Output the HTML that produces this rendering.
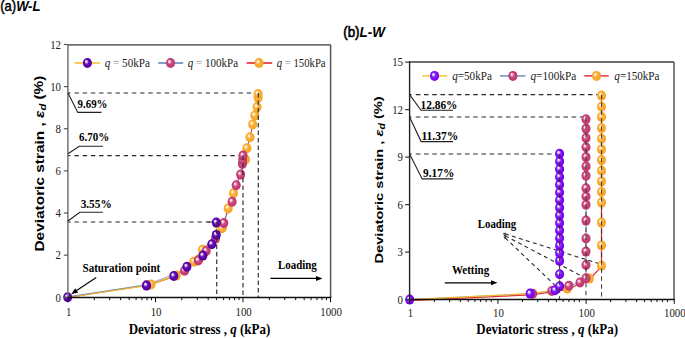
<!DOCTYPE html>
<html><head><meta charset="utf-8"><style>
html,body{margin:0;padding:0;background:#fff;width:685px;height:338px;overflow:hidden;}
svg{display:block;}
</style></head><body>
<svg width="685" height="338" viewBox="0 0 685 338">
<defs>
<radialGradient id="gP" cx="0.5" cy="0.5" r="0.52" fx="0.34" fy="0.32">
 <stop offset="0" stop-color="#ffffff"/><stop offset="0.17" stop-color="#e0d0f2"/><stop offset="0.45" stop-color="#6410b4"/><stop offset="0.8" stop-color="#5600a6"/><stop offset="1" stop-color="#4c0098"/></radialGradient>
<radialGradient id="gP2" cx="0.5" cy="0.5" r="0.52" fx="0.34" fy="0.32">
 <stop offset="0" stop-color="#ffffff"/><stop offset="0.17" stop-color="#e4d0ff"/><stop offset="0.45" stop-color="#8424f6"/><stop offset="0.8" stop-color="#7800ee"/><stop offset="1" stop-color="#6e00e0"/></radialGradient>
<radialGradient id="gK" cx="0.5" cy="0.5" r="0.52" fx="0.34" fy="0.32">
 <stop offset="0" stop-color="#ffffff"/><stop offset="0.17" stop-color="#f4d4e2"/><stop offset="0.45" stop-color="#cc4a80"/><stop offset="0.8" stop-color="#c43a72"/><stop offset="1" stop-color="#b83068"/></radialGradient>
<radialGradient id="gO" cx="0.5" cy="0.5" r="0.52" fx="0.34" fy="0.32">
 <stop offset="0" stop-color="#ffffff"/><stop offset="0.17" stop-color="#ffecd0"/><stop offset="0.45" stop-color="#fbb038"/><stop offset="0.8" stop-color="#f8a828"/><stop offset="1" stop-color="#f2a020"/></radialGradient>
</defs>
<rect width="685" height="338" fill="#fff"/>
<text x="0.20" y="10.50" font-family="Liberation Sans" font-weight="normal" font-size="14.5" fill="#000" textLength="40.2" lengthAdjust="spacingAndGlyphs"><tspan stroke="#000" stroke-width="0.45">(a)</tspan><tspan font-weight="bold" font-style="italic">W-L</tspan></text>
<text x="343.20" y="37.20" font-family="Liberation Sans" font-weight="normal" font-size="14.2" fill="#000" textLength="41.72" lengthAdjust="spacingAndGlyphs"><tspan stroke="#000" stroke-width="0.6">(b)</tspan><tspan font-weight="bold" font-style="italic">L-W</tspan></text>
<line x1="74.50" y1="93.00" x2="258.30" y2="93.00" stroke="#2a2a2a" stroke-width="1.2" stroke-dasharray="4.4,3.8"/>
<line x1="67.50" y1="93.00" x2="70.40" y2="93.00" stroke="#2a2a2a" stroke-width="1.2"/>
<line x1="74.50" y1="155.60" x2="243.00" y2="155.60" stroke="#2a2a2a" stroke-width="1.2" stroke-dasharray="4.4,3.8"/>
<line x1="67.50" y1="155.60" x2="70.40" y2="155.60" stroke="#2a2a2a" stroke-width="1.2"/>
<line x1="74.50" y1="222.00" x2="216.70" y2="222.00" stroke="#2a2a2a" stroke-width="1.2" stroke-dasharray="4.4,3.8"/>
<line x1="67.50" y1="222.00" x2="70.40" y2="222.00" stroke="#2a2a2a" stroke-width="1.2"/>
<polyline points="67.70,297.50 151.00,284.60 176.30,275.80 193.80,262.00 198.90,259.50 202.50,250.00 222.10,228.50 228.20,208.60 233.50,193.50 245.60,159.70 246.90,148.40 250.00,137.50 252.70,124.60 254.80,115.60 257.10,107.30 258.10,97.80 258.10,94.20" fill="none" stroke="#e8343c" stroke-width="1.0" stroke-linejoin="round"/>
<polyline points="67.70,297.30 146.50,285.60 173.80,276.00 186.90,266.70 202.90,255.60 211.80,244.20 216.30,234.90 216.30,222.60" fill="none" stroke="#f5b82e" stroke-width="1.5" stroke-linejoin="round"/>
<polyline points="67.70,296.75 146.50,284.65 184.60,270.25 198.30,259.95 206.20,250.45 215.50,238.05 223.80,222.55 232.10,201.15 236.20,184.75 240.60,174.05 242.40,163.45 242.70,159.45 243.00,155.05" fill="none" stroke="#5b8ac0" stroke-width="0.7" stroke-linejoin="round"/>
<ellipse cx="151.00" cy="284.40" rx="4.5" ry="5.0" fill="url(#gO)"/>
<ellipse cx="176.30" cy="275.60" rx="4.5" ry="5.0" fill="url(#gO)"/>
<ellipse cx="193.80" cy="261.80" rx="4.5" ry="5.0" fill="url(#gO)"/>
<ellipse cx="198.90" cy="259.30" rx="4.5" ry="5.0" fill="url(#gO)"/>
<ellipse cx="202.50" cy="249.80" rx="4.5" ry="5.0" fill="url(#gO)"/>
<ellipse cx="222.10" cy="228.30" rx="4.5" ry="5.0" fill="url(#gO)"/>
<ellipse cx="228.20" cy="208.40" rx="4.5" ry="5.0" fill="url(#gO)"/>
<ellipse cx="233.50" cy="193.30" rx="4.5" ry="5.0" fill="url(#gO)"/>
<ellipse cx="245.60" cy="159.50" rx="4.5" ry="5.0" fill="url(#gO)"/>
<ellipse cx="246.90" cy="148.20" rx="4.5" ry="5.0" fill="url(#gO)"/>
<ellipse cx="250.00" cy="137.30" rx="4.5" ry="5.0" fill="url(#gO)"/>
<ellipse cx="252.70" cy="124.40" rx="4.5" ry="5.0" fill="url(#gO)"/>
<ellipse cx="254.80" cy="115.40" rx="4.5" ry="5.0" fill="url(#gO)"/>
<ellipse cx="257.10" cy="107.10" rx="4.5" ry="5.0" fill="url(#gO)"/>
<ellipse cx="258.10" cy="97.60" rx="4.5" ry="5.0" fill="url(#gO)"/>
<ellipse cx="258.10" cy="94.00" rx="4.5" ry="5.0" fill="url(#gO)"/>
<ellipse cx="146.50" cy="285.20" rx="4.5" ry="5.0" fill="url(#gK)"/>
<ellipse cx="184.60" cy="270.80" rx="4.5" ry="5.0" fill="url(#gK)"/>
<ellipse cx="198.30" cy="260.50" rx="4.5" ry="5.0" fill="url(#gK)"/>
<ellipse cx="206.20" cy="251.00" rx="4.5" ry="5.0" fill="url(#gK)"/>
<ellipse cx="215.50" cy="238.60" rx="4.5" ry="5.0" fill="url(#gK)"/>
<ellipse cx="223.80" cy="223.10" rx="4.5" ry="5.0" fill="url(#gK)"/>
<ellipse cx="232.10" cy="201.70" rx="4.5" ry="5.0" fill="url(#gK)"/>
<ellipse cx="236.20" cy="185.30" rx="4.5" ry="5.0" fill="url(#gK)"/>
<ellipse cx="240.60" cy="174.60" rx="4.5" ry="5.0" fill="url(#gK)"/>
<ellipse cx="242.40" cy="164.00" rx="4.5" ry="5.0" fill="url(#gK)"/>
<ellipse cx="242.70" cy="160.00" rx="4.5" ry="5.0" fill="url(#gK)"/>
<ellipse cx="243.00" cy="155.60" rx="4.5" ry="5.0" fill="url(#gK)"/>
<ellipse cx="67.70" cy="297.30" rx="4.5" ry="5.0" fill="url(#gP)"/>
<ellipse cx="146.50" cy="285.60" rx="4.5" ry="5.0" fill="url(#gP)"/>
<ellipse cx="173.80" cy="276.00" rx="4.5" ry="5.0" fill="url(#gP)"/>
<ellipse cx="186.90" cy="266.70" rx="4.5" ry="5.0" fill="url(#gP)"/>
<ellipse cx="202.90" cy="255.60" rx="4.5" ry="5.0" fill="url(#gP)"/>
<ellipse cx="211.80" cy="244.20" rx="4.5" ry="5.0" fill="url(#gP)"/>
<ellipse cx="216.30" cy="234.90" rx="4.5" ry="5.0" fill="url(#gP)"/>
<ellipse cx="216.30" cy="222.60" rx="4.5" ry="5.0" fill="url(#gP)"/>
<line x1="258.30" y1="93.00" x2="258.30" y2="297.40" stroke="#333" stroke-width="1.2" stroke-dasharray="4.5,3"/>
<line x1="243.00" y1="155.60" x2="243.00" y2="297.40" stroke="#333" stroke-width="1.2" stroke-dasharray="4.5,3"/>
<line x1="216.70" y1="222.00" x2="216.70" y2="297.40" stroke="#333" stroke-width="1.2" stroke-dasharray="4.5,3"/>
<line x1="206.00" y1="222.00" x2="216.70" y2="222.00" stroke="#333" stroke-width="1.2" stroke-dasharray="0,1.5,4.5,3"/>
<line x1="67.90" y1="44.80" x2="330.60" y2="44.80" stroke="#6e6e6e" stroke-width="1.8"/>
<line x1="330.60" y1="44.80" x2="330.60" y2="297.40" stroke="#555" stroke-width="1.5"/>
<line x1="67.90" y1="43.90" x2="67.90" y2="297.40" stroke="#7a7a7a" stroke-width="1.6"/>
<line x1="67.10" y1="297.40" x2="331.40" y2="297.40" stroke="#111" stroke-width="1.5"/>
<line x1="63.80" y1="297.30" x2="67.90" y2="297.30" stroke="#555" stroke-width="1.2"/>
<text x="61.00" y="301.50" font-family="Liberation Serif" font-size="13.0" text-anchor="end" fill="#222" textLength="5.43" lengthAdjust="spacingAndGlyphs">0</text>
<line x1="63.80" y1="255.16" x2="67.90" y2="255.16" stroke="#555" stroke-width="1.2"/>
<text x="61.00" y="259.36" font-family="Liberation Serif" font-size="13.0" text-anchor="end" fill="#222" textLength="5.43" lengthAdjust="spacingAndGlyphs">2</text>
<line x1="63.80" y1="213.02" x2="67.90" y2="213.02" stroke="#555" stroke-width="1.2"/>
<text x="61.00" y="217.22" font-family="Liberation Serif" font-size="13.0" text-anchor="end" fill="#222" textLength="5.43" lengthAdjust="spacingAndGlyphs">4</text>
<line x1="63.80" y1="170.88" x2="67.90" y2="170.88" stroke="#555" stroke-width="1.2"/>
<text x="61.00" y="175.08" font-family="Liberation Serif" font-size="13.0" text-anchor="end" fill="#222" textLength="5.43" lengthAdjust="spacingAndGlyphs">6</text>
<line x1="63.80" y1="128.74" x2="67.90" y2="128.74" stroke="#555" stroke-width="1.2"/>
<text x="61.00" y="132.94" font-family="Liberation Serif" font-size="13.0" text-anchor="end" fill="#222" textLength="5.43" lengthAdjust="spacingAndGlyphs">8</text>
<line x1="63.80" y1="86.60" x2="67.90" y2="86.60" stroke="#555" stroke-width="1.2"/>
<text x="61.00" y="90.80" font-family="Liberation Serif" font-size="13.0" text-anchor="end" fill="#222" textLength="10.86" lengthAdjust="spacingAndGlyphs">10</text>
<line x1="63.80" y1="44.46" x2="67.90" y2="44.46" stroke="#555" stroke-width="1.2"/>
<text x="61.00" y="48.66" font-family="Liberation Serif" font-size="13.0" text-anchor="end" fill="#222" textLength="10.86" lengthAdjust="spacingAndGlyphs">12</text>
<line x1="94.34" y1="297.40" x2="94.34" y2="300.20" stroke="#111" stroke-width="1.0"/>
<line x1="109.75" y1="297.40" x2="109.75" y2="300.20" stroke="#111" stroke-width="1.0"/>
<line x1="120.68" y1="297.40" x2="120.68" y2="300.20" stroke="#111" stroke-width="1.0"/>
<line x1="129.16" y1="297.40" x2="129.16" y2="300.20" stroke="#111" stroke-width="1.0"/>
<line x1="136.09" y1="297.40" x2="136.09" y2="300.20" stroke="#111" stroke-width="1.0"/>
<line x1="141.95" y1="297.40" x2="141.95" y2="300.20" stroke="#111" stroke-width="1.0"/>
<line x1="147.02" y1="297.40" x2="147.02" y2="300.20" stroke="#111" stroke-width="1.0"/>
<line x1="151.50" y1="297.40" x2="151.50" y2="300.20" stroke="#111" stroke-width="1.0"/>
<line x1="181.84" y1="297.40" x2="181.84" y2="300.20" stroke="#111" stroke-width="1.0"/>
<line x1="197.25" y1="297.40" x2="197.25" y2="300.20" stroke="#111" stroke-width="1.0"/>
<line x1="208.18" y1="297.40" x2="208.18" y2="300.20" stroke="#111" stroke-width="1.0"/>
<line x1="216.66" y1="297.40" x2="216.66" y2="300.20" stroke="#111" stroke-width="1.0"/>
<line x1="223.59" y1="297.40" x2="223.59" y2="300.20" stroke="#111" stroke-width="1.0"/>
<line x1="229.45" y1="297.40" x2="229.45" y2="300.20" stroke="#111" stroke-width="1.0"/>
<line x1="234.52" y1="297.40" x2="234.52" y2="300.20" stroke="#111" stroke-width="1.0"/>
<line x1="239.00" y1="297.40" x2="239.00" y2="300.20" stroke="#111" stroke-width="1.0"/>
<line x1="269.34" y1="297.40" x2="269.34" y2="300.20" stroke="#111" stroke-width="1.0"/>
<line x1="284.75" y1="297.40" x2="284.75" y2="300.20" stroke="#111" stroke-width="1.0"/>
<line x1="295.68" y1="297.40" x2="295.68" y2="300.20" stroke="#111" stroke-width="1.0"/>
<line x1="304.16" y1="297.40" x2="304.16" y2="300.20" stroke="#111" stroke-width="1.0"/>
<line x1="311.09" y1="297.40" x2="311.09" y2="300.20" stroke="#111" stroke-width="1.0"/>
<line x1="316.95" y1="297.40" x2="316.95" y2="300.20" stroke="#111" stroke-width="1.0"/>
<line x1="322.02" y1="297.40" x2="322.02" y2="300.20" stroke="#111" stroke-width="1.0"/>
<line x1="326.50" y1="297.40" x2="326.50" y2="300.20" stroke="#111" stroke-width="1.0"/>
<line x1="68.00" y1="297.40" x2="68.00" y2="302.20" stroke="#111" stroke-width="1.0"/>
<text x="68.60" y="316.00" font-family="Liberation Serif" font-size="13.0" text-anchor="middle" fill="#222" textLength="5.43" lengthAdjust="spacingAndGlyphs">1</text>
<line x1="155.50" y1="297.40" x2="155.50" y2="302.20" stroke="#111" stroke-width="1.0"/>
<text x="156.10" y="316.00" font-family="Liberation Serif" font-size="13.0" text-anchor="middle" fill="#222" textLength="10.86" lengthAdjust="spacingAndGlyphs">10</text>
<line x1="243.00" y1="297.40" x2="243.00" y2="302.20" stroke="#111" stroke-width="1.0"/>
<text x="243.60" y="316.00" font-family="Liberation Serif" font-size="13.0" text-anchor="middle" fill="#222" textLength="16.28" lengthAdjust="spacingAndGlyphs">100</text>
<line x1="330.50" y1="297.40" x2="330.50" y2="302.20" stroke="#111" stroke-width="1.0"/>
<text x="331.10" y="316.00" font-family="Liberation Serif" font-size="13.0" text-anchor="middle" fill="#222" textLength="21.71" lengthAdjust="spacingAndGlyphs">1000</text>
<text x="128.70" y="333.80" font-family="Liberation Serif" font-weight="bold" font-size="14.0" fill="#000" textLength="141.69" lengthAdjust="spacingAndGlyphs">Deviatoric stress , <tspan font-style="italic">q</tspan> (kPa)</text>
<text transform="translate(44.20,251.50) rotate(-90)" x="0" y="0" font-family="Liberation Sans" font-weight="bold" font-size="12.8" fill="#000" textLength="175.91" lengthAdjust="spacingAndGlyphs">Deviatoric strain , <tspan font-style="italic">ε</tspan><tspan font-style="italic" font-size="0.72em" dy="0.22em">d</tspan><tspan dy="-0.22em"> (%)</tspan></text>
<polyline points="68,93.0 77.8,112.4 101.5,112.4" fill="none" stroke="#222" stroke-width="1.1"/>
<polyline points="68,153.8 79.2,146.3 102.9,146.3" fill="none" stroke="#222" stroke-width="1.1"/>
<polyline points="68,221.0 79.8,212.2 102.8,212.2" fill="none" stroke="#222" stroke-width="1.1"/>
<text x="77.55" y="107.80" font-family="Liberation Serif" font-weight="bold" font-size="12.6" fill="#000" textLength="29.96" lengthAdjust="spacingAndGlyphs">9.69%</text>
<text x="78.95" y="141.00" font-family="Liberation Serif" font-weight="bold" font-size="12.6" fill="#000" textLength="30.27" lengthAdjust="spacingAndGlyphs">6.70%</text>
<text x="80.65" y="208.00" font-family="Liberation Serif" font-weight="bold" font-size="12.6" fill="#000" textLength="31.08" lengthAdjust="spacingAndGlyphs">3.55%</text>
<text x="82.50" y="271.70" font-family="Liberation Serif" font-weight="bold" font-size="12.2" fill="#000" textLength="77.73" lengthAdjust="spacingAndGlyphs">Saturation point</text>
<line x1="96.20" y1="277.50" x2="75.50" y2="291.20" stroke="#000" stroke-width="1.1"/>
<polygon points="71.30,294.10 75.27,288.33 78.15,292.66" fill="#000"/>
<text x="278.00" y="268.60" font-family="Liberation Serif" font-weight="bold" font-size="12.4" fill="#000" textLength="38.77" lengthAdjust="spacingAndGlyphs">Loading</text>
<line x1="270.40" y1="278.40" x2="317.00" y2="278.40" stroke="#000" stroke-width="1.3"/>
<polygon points="322.50,278.40 316.00,280.90 316.00,275.90" fill="#000"/>
<line x1="74.70" y1="63.00" x2="99.80" y2="63.00" stroke="#f8c43a" stroke-width="1.7"/>
<ellipse cx="87.40" cy="63.00" rx="4.5" ry="5.0" fill="url(#gP)"/>
<text x="104.75" y="67.00" font-family="Liberation Serif" font-weight="normal" font-size="12.2" fill="#222" textLength="45.11" lengthAdjust="spacingAndGlyphs"><tspan font-style="italic">q</tspan> <tspan fill="#999">=</tspan> 50kPa</text>
<line x1="158.20" y1="63.00" x2="183.20" y2="63.00" stroke="#6a90bc" stroke-width="1.7"/>
<ellipse cx="170.50" cy="63.00" rx="4.5" ry="5.0" fill="url(#gK)"/>
<text x="187.85" y="67.00" font-family="Liberation Serif" font-weight="normal" font-size="12.2" fill="#222" textLength="50.19" lengthAdjust="spacingAndGlyphs"><tspan font-style="italic">q</tspan> <tspan fill="#999">=</tspan> 100kPa</text>
<line x1="246.70" y1="63.00" x2="272.20" y2="63.00" stroke="#e8303e" stroke-width="1.7"/>
<ellipse cx="259.00" cy="63.00" rx="4.5" ry="5.0" fill="url(#gO)"/>
<text x="276.65" y="67.00" font-family="Liberation Serif" font-weight="normal" font-size="12.2" fill="#222" textLength="48.98" lengthAdjust="spacingAndGlyphs"><tspan font-style="italic">q</tspan> <tspan fill="#999">=</tspan> 150kPa</text>
<line x1="415.80" y1="94.60" x2="601.60" y2="94.60" stroke="#2a2a2a" stroke-width="1.2" stroke-dasharray="4.6,3.6"/>
<line x1="410.00" y1="94.60" x2="411.60" y2="94.60" stroke="#2a2a2a" stroke-width="1.2"/>
<line x1="415.80" y1="117.00" x2="586.00" y2="117.00" stroke="#2a2a2a" stroke-width="1.2" stroke-dasharray="4.6,3.6"/>
<line x1="410.00" y1="117.00" x2="411.60" y2="117.00" stroke="#2a2a2a" stroke-width="1.2"/>
<line x1="415.80" y1="154.00" x2="559.60" y2="154.00" stroke="#2a2a2a" stroke-width="1.2" stroke-dasharray="4.6,3.6"/>
<line x1="410.00" y1="154.00" x2="411.60" y2="154.00" stroke="#2a2a2a" stroke-width="1.2"/>
<line x1="504.98" y1="233.76" x2="601.40" y2="264.50" stroke="#222" stroke-width="1.05" stroke-dasharray="4,3.3"/>
<polygon points="502.60,233.00 506.01,232.83 505.28,235.12" fill="#333"/>
<line x1="505.21" y1="235.77" x2="584.30" y2="277.50" stroke="#222" stroke-width="1.05" stroke-dasharray="4,3.3"/>
<polygon points="503.00,234.60 506.39,235.03 505.27,237.15" fill="#333"/>
<line x1="505.21" y1="237.92" x2="555.50" y2="285.80" stroke="#222" stroke-width="1.05" stroke-dasharray="4,3.3"/>
<polygon points="503.40,236.20 506.55,237.54 504.89,239.28" fill="#333"/>
<polyline points="409.70,300.50 531.50,294.80 567.30,289.50 589.30,279.50 601.50,266.60 601.50,246.30 601.50,223.50 601.50,203.50 601.50,192.90 601.50,182.30 601.50,171.60 601.50,161.00 601.50,150.30 601.50,139.70 601.50,129.00 601.50,117.90 601.50,107.70 601.50,96.50" fill="none" stroke="#e8303a" stroke-width="1.3" stroke-linejoin="round"/>
<polyline points="409.70,299.60 532.70,293.70 551.80,291.00 568.90,285.80 580.00,282.50 586.00,278.30 586.00,265.00 586.00,251.60 586.00,238.50 586.00,220.60 586.00,204.80 586.00,196.50 586.00,188.20 586.00,175.80 586.00,166.40 586.00,157.10 586.00,147.30 586.00,138.00 586.00,128.60 586.00,119.30" fill="none" stroke="#6a9ac8" stroke-width="1.0" stroke-linejoin="round"/>
<polyline points="409.70,299.60 530.10,293.60 555.00,290.30 559.60,286.20 559.60,274.30 559.60,260.90 559.60,253.10 559.60,245.70 559.60,238.20 559.60,230.50 559.60,223.00 559.60,215.40 559.60,207.80 559.60,200.20 559.60,192.50 559.60,184.80 559.60,177.00 559.60,169.20 559.60,161.40 559.60,153.80" fill="none" stroke="#f5b82e" stroke-width="1.3" stroke-linejoin="round"/>
<ellipse cx="567.30" cy="288.60" rx="4.5" ry="5.0" fill="url(#gO)"/>
<ellipse cx="589.30" cy="278.60" rx="4.5" ry="5.0" fill="url(#gO)"/>
<ellipse cx="601.50" cy="265.70" rx="4.5" ry="5.0" fill="url(#gO)"/>
<ellipse cx="601.50" cy="245.40" rx="4.5" ry="5.0" fill="url(#gO)"/>
<ellipse cx="601.50" cy="222.60" rx="4.5" ry="5.0" fill="url(#gO)"/>
<ellipse cx="601.50" cy="202.60" rx="4.5" ry="5.0" fill="url(#gO)"/>
<ellipse cx="601.50" cy="192.00" rx="4.5" ry="5.0" fill="url(#gO)"/>
<ellipse cx="601.50" cy="181.40" rx="4.5" ry="5.0" fill="url(#gO)"/>
<ellipse cx="601.50" cy="170.70" rx="4.5" ry="5.0" fill="url(#gO)"/>
<ellipse cx="601.50" cy="160.10" rx="4.5" ry="5.0" fill="url(#gO)"/>
<ellipse cx="601.50" cy="149.40" rx="4.5" ry="5.0" fill="url(#gO)"/>
<ellipse cx="601.50" cy="138.80" rx="4.5" ry="5.0" fill="url(#gO)"/>
<ellipse cx="601.50" cy="128.10" rx="4.5" ry="5.0" fill="url(#gO)"/>
<ellipse cx="601.50" cy="117.00" rx="4.5" ry="5.0" fill="url(#gO)"/>
<ellipse cx="601.50" cy="106.80" rx="4.5" ry="5.0" fill="url(#gO)"/>
<ellipse cx="601.50" cy="95.60" rx="4.5" ry="5.0" fill="url(#gO)"/>
<ellipse cx="532.70" cy="293.70" rx="4.5" ry="5.0" fill="url(#gK)"/>
<ellipse cx="551.80" cy="291.00" rx="4.5" ry="5.0" fill="url(#gK)"/>
<ellipse cx="568.90" cy="285.80" rx="4.5" ry="5.0" fill="url(#gK)"/>
<ellipse cx="580.00" cy="282.50" rx="4.5" ry="5.0" fill="url(#gK)"/>
<ellipse cx="586.00" cy="278.30" rx="4.5" ry="5.0" fill="url(#gK)"/>
<ellipse cx="586.00" cy="265.00" rx="4.5" ry="5.0" fill="url(#gK)"/>
<ellipse cx="586.00" cy="251.60" rx="4.5" ry="5.0" fill="url(#gK)"/>
<ellipse cx="586.00" cy="238.50" rx="4.5" ry="5.0" fill="url(#gK)"/>
<ellipse cx="586.00" cy="220.60" rx="4.5" ry="5.0" fill="url(#gK)"/>
<ellipse cx="586.00" cy="204.80" rx="4.5" ry="5.0" fill="url(#gK)"/>
<ellipse cx="586.00" cy="196.50" rx="4.5" ry="5.0" fill="url(#gK)"/>
<ellipse cx="586.00" cy="188.20" rx="4.5" ry="5.0" fill="url(#gK)"/>
<ellipse cx="586.00" cy="175.80" rx="4.5" ry="5.0" fill="url(#gK)"/>
<ellipse cx="586.00" cy="166.40" rx="4.5" ry="5.0" fill="url(#gK)"/>
<ellipse cx="586.00" cy="157.10" rx="4.5" ry="5.0" fill="url(#gK)"/>
<ellipse cx="586.00" cy="147.30" rx="4.5" ry="5.0" fill="url(#gK)"/>
<ellipse cx="586.00" cy="138.00" rx="4.5" ry="5.0" fill="url(#gK)"/>
<ellipse cx="586.00" cy="128.60" rx="4.5" ry="5.0" fill="url(#gK)"/>
<ellipse cx="586.00" cy="119.30" rx="4.5" ry="5.0" fill="url(#gK)"/>
<ellipse cx="409.70" cy="299.60" rx="4.5" ry="5.0" fill="url(#gP2)"/>
<ellipse cx="530.10" cy="293.60" rx="4.5" ry="5.0" fill="url(#gP2)"/>
<ellipse cx="555.00" cy="290.30" rx="4.5" ry="5.0" fill="url(#gP2)"/>
<ellipse cx="559.60" cy="286.20" rx="4.5" ry="5.0" fill="url(#gP2)"/>
<ellipse cx="559.60" cy="274.30" rx="4.5" ry="5.0" fill="url(#gP2)"/>
<ellipse cx="559.60" cy="260.90" rx="4.5" ry="5.0" fill="url(#gP2)"/>
<ellipse cx="559.60" cy="253.10" rx="4.5" ry="5.0" fill="url(#gP2)"/>
<ellipse cx="559.60" cy="245.70" rx="4.5" ry="5.0" fill="url(#gP2)"/>
<ellipse cx="559.60" cy="238.20" rx="4.5" ry="5.0" fill="url(#gP2)"/>
<ellipse cx="559.60" cy="230.50" rx="4.5" ry="5.0" fill="url(#gP2)"/>
<ellipse cx="559.60" cy="223.00" rx="4.5" ry="5.0" fill="url(#gP2)"/>
<ellipse cx="559.60" cy="215.40" rx="4.5" ry="5.0" fill="url(#gP2)"/>
<ellipse cx="559.60" cy="207.80" rx="4.5" ry="5.0" fill="url(#gP2)"/>
<ellipse cx="559.60" cy="200.20" rx="4.5" ry="5.0" fill="url(#gP2)"/>
<ellipse cx="559.60" cy="192.50" rx="4.5" ry="5.0" fill="url(#gP2)"/>
<ellipse cx="559.60" cy="184.80" rx="4.5" ry="5.0" fill="url(#gP2)"/>
<ellipse cx="559.60" cy="177.00" rx="4.5" ry="5.0" fill="url(#gP2)"/>
<ellipse cx="559.60" cy="169.20" rx="4.5" ry="5.0" fill="url(#gP2)"/>
<ellipse cx="559.60" cy="161.40" rx="4.5" ry="5.0" fill="url(#gP2)"/>
<ellipse cx="559.60" cy="153.80" rx="4.5" ry="5.0" fill="url(#gP2)"/>
<line x1="601.60" y1="94.60" x2="601.60" y2="299.60" stroke="#333" stroke-width="1.0" stroke-dasharray="4.5,3.4"/>
<line x1="586.00" y1="117.00" x2="586.00" y2="299.60" stroke="#333" stroke-width="1.0" stroke-dasharray="4.5,3.4"/>
<line x1="559.60" y1="154.00" x2="559.60" y2="299.60" stroke="#333" stroke-width="1.0" stroke-dasharray="4.5,3.4"/>
<line x1="409.60" y1="62.00" x2="674.00" y2="62.00" stroke="#6e6e6e" stroke-width="1.8"/>
<line x1="674.00" y1="62.00" x2="674.00" y2="299.60" stroke="#555" stroke-width="1.5"/>
<line x1="409.60" y1="61.10" x2="409.60" y2="299.60" stroke="#222" stroke-width="1.4"/>
<line x1="408.80" y1="299.60" x2="674.80" y2="299.60" stroke="#111" stroke-width="1.5"/>
<line x1="405.20" y1="299.60" x2="409.60" y2="299.60" stroke="#333" stroke-width="1.2"/>
<text x="403.00" y="303.80" font-family="Liberation Serif" font-size="13.0" text-anchor="end" fill="#222" textLength="5.43" lengthAdjust="spacingAndGlyphs">0</text>
<line x1="405.20" y1="252.11" x2="409.60" y2="252.11" stroke="#333" stroke-width="1.2"/>
<text x="403.00" y="256.31" font-family="Liberation Serif" font-size="13.0" text-anchor="end" fill="#222" textLength="5.43" lengthAdjust="spacingAndGlyphs">3</text>
<line x1="405.20" y1="204.62" x2="409.60" y2="204.62" stroke="#333" stroke-width="1.2"/>
<text x="403.00" y="208.82" font-family="Liberation Serif" font-size="13.0" text-anchor="end" fill="#222" textLength="5.43" lengthAdjust="spacingAndGlyphs">6</text>
<line x1="405.20" y1="157.13" x2="409.60" y2="157.13" stroke="#333" stroke-width="1.2"/>
<text x="403.00" y="161.33" font-family="Liberation Serif" font-size="13.0" text-anchor="end" fill="#222" textLength="5.43" lengthAdjust="spacingAndGlyphs">9</text>
<line x1="405.20" y1="109.64" x2="409.60" y2="109.64" stroke="#333" stroke-width="1.2"/>
<text x="403.00" y="113.84" font-family="Liberation Serif" font-size="13.0" text-anchor="end" fill="#222" textLength="10.86" lengthAdjust="spacingAndGlyphs">12</text>
<line x1="405.20" y1="62.15" x2="409.60" y2="62.15" stroke="#333" stroke-width="1.2"/>
<text x="403.00" y="66.35" font-family="Liberation Serif" font-size="13.0" text-anchor="end" fill="#222" textLength="10.86" lengthAdjust="spacingAndGlyphs">15</text>
<line x1="434.30" y1="299.60" x2="434.30" y2="302.10" stroke="#111" stroke-width="1.0"/>
<line x1="449.60" y1="299.60" x2="449.60" y2="302.10" stroke="#111" stroke-width="1.0"/>
<line x1="460.30" y1="299.60" x2="460.30" y2="302.10" stroke="#111" stroke-width="1.0"/>
<line x1="468.20" y1="299.60" x2="468.20" y2="302.10" stroke="#111" stroke-width="1.0"/>
<line x1="474.90" y1="299.60" x2="474.90" y2="302.10" stroke="#111" stroke-width="1.0"/>
<line x1="480.70" y1="299.60" x2="480.70" y2="302.10" stroke="#111" stroke-width="1.0"/>
<line x1="486.10" y1="299.60" x2="486.10" y2="302.10" stroke="#111" stroke-width="1.0"/>
<line x1="491.20" y1="299.60" x2="491.20" y2="302.10" stroke="#111" stroke-width="1.0"/>
<line x1="522.45" y1="299.60" x2="522.45" y2="302.10" stroke="#111" stroke-width="1.0"/>
<line x1="537.75" y1="299.60" x2="537.75" y2="302.10" stroke="#111" stroke-width="1.0"/>
<line x1="548.45" y1="299.60" x2="548.45" y2="302.10" stroke="#111" stroke-width="1.0"/>
<line x1="556.35" y1="299.60" x2="556.35" y2="302.10" stroke="#111" stroke-width="1.0"/>
<line x1="563.05" y1="299.60" x2="563.05" y2="302.10" stroke="#111" stroke-width="1.0"/>
<line x1="568.85" y1="299.60" x2="568.85" y2="302.10" stroke="#111" stroke-width="1.0"/>
<line x1="574.25" y1="299.60" x2="574.25" y2="302.10" stroke="#111" stroke-width="1.0"/>
<line x1="579.35" y1="299.60" x2="579.35" y2="302.10" stroke="#111" stroke-width="1.0"/>
<line x1="610.60" y1="299.60" x2="610.60" y2="302.10" stroke="#111" stroke-width="1.0"/>
<line x1="625.90" y1="299.60" x2="625.90" y2="302.10" stroke="#111" stroke-width="1.0"/>
<line x1="636.60" y1="299.60" x2="636.60" y2="302.10" stroke="#111" stroke-width="1.0"/>
<line x1="644.50" y1="299.60" x2="644.50" y2="302.10" stroke="#111" stroke-width="1.0"/>
<line x1="651.20" y1="299.60" x2="651.20" y2="302.10" stroke="#111" stroke-width="1.0"/>
<line x1="657.00" y1="299.60" x2="657.00" y2="302.10" stroke="#111" stroke-width="1.0"/>
<line x1="662.40" y1="299.60" x2="662.40" y2="302.10" stroke="#111" stroke-width="1.0"/>
<line x1="667.50" y1="299.60" x2="667.50" y2="302.10" stroke="#111" stroke-width="1.0"/>
<line x1="409.80" y1="299.60" x2="409.80" y2="303.90" stroke="#111" stroke-width="1.0"/>
<text x="410.40" y="316.80" font-family="Liberation Serif" font-size="13.0" text-anchor="middle" fill="#222" textLength="5.43" lengthAdjust="spacingAndGlyphs">1</text>
<line x1="497.95" y1="299.60" x2="497.95" y2="303.90" stroke="#111" stroke-width="1.0"/>
<text x="498.55" y="316.80" font-family="Liberation Serif" font-size="13.0" text-anchor="middle" fill="#222" textLength="10.86" lengthAdjust="spacingAndGlyphs">10</text>
<line x1="586.10" y1="299.60" x2="586.10" y2="303.90" stroke="#111" stroke-width="1.0"/>
<text x="586.70" y="316.80" font-family="Liberation Serif" font-size="13.0" text-anchor="middle" fill="#222" textLength="16.28" lengthAdjust="spacingAndGlyphs">100</text>
<line x1="674.25" y1="299.60" x2="674.25" y2="303.90" stroke="#111" stroke-width="1.0"/>
<text x="674.85" y="316.80" font-family="Liberation Serif" font-size="13.0" text-anchor="middle" fill="#222" textLength="21.71" lengthAdjust="spacingAndGlyphs">1000</text>
<text x="476.30" y="334.40" font-family="Liberation Serif" font-weight="bold" font-size="14.0" fill="#000" textLength="141.69" lengthAdjust="spacingAndGlyphs">Deviatoric stress , <tspan font-style="italic">q</tspan> (kPa)</text>
<text transform="translate(383.20,263.55) rotate(-90)" x="0" y="0" font-family="Liberation Sans" font-weight="bold" font-size="11.6" fill="#000" textLength="167.32" lengthAdjust="spacingAndGlyphs">Deviatoric strain , <tspan font-style="italic">ε</tspan><tspan font-style="italic" font-size="0.72em" dy="0.22em">d</tspan><tspan dy="-0.22em"> (%)</tspan></text>
<polyline points="409.6,94.6 421.0,110.3 453,110.3" fill="none" stroke="#222" stroke-width="1.1"/>
<polyline points="409.6,117.1 421.1,141.6 453,141.6" fill="none" stroke="#222" stroke-width="1.1"/>
<polyline points="409.6,154.0 422.2,178.9 453,178.9" fill="none" stroke="#222" stroke-width="1.1"/>
<text x="420.55" y="108.80" font-family="Liberation Serif" font-weight="bold" font-size="12.6" fill="#000" textLength="36.93" lengthAdjust="spacingAndGlyphs">12.86%</text>
<text x="421.45" y="140.00" font-family="Liberation Serif" font-weight="bold" font-size="12.6" fill="#000" textLength="36.99" lengthAdjust="spacingAndGlyphs">11.37%</text>
<text x="423.05" y="176.60" font-family="Liberation Serif" font-weight="bold" font-size="12.6" fill="#000" textLength="31.25" lengthAdjust="spacingAndGlyphs">9.17%</text>
<text x="477.80" y="228.10" font-family="Liberation Serif" font-weight="bold" font-size="12.4" fill="#000" textLength="38.42" lengthAdjust="spacingAndGlyphs">Loading</text>
<text x="451.90" y="273.90" font-family="Liberation Serif" font-weight="bold" font-size="12.2" fill="#000" textLength="37.26" lengthAdjust="spacingAndGlyphs">Wetting</text>
<line x1="444.80" y1="282.80" x2="492.00" y2="282.80" stroke="#000" stroke-width="1.3"/>
<polygon points="497.50,282.80 491.00,285.30 491.00,280.30" fill="#000"/>
<line x1="422.30" y1="75.90" x2="447.20" y2="75.90" stroke="#f8c43a" stroke-width="1.5"/>
<ellipse cx="434.50" cy="75.90" rx="4.5" ry="5.0" fill="url(#gP2)"/>
<text x="452.25" y="79.80" font-family="Liberation Serif" font-weight="normal" font-size="12.2" fill="#222" textLength="39.6" lengthAdjust="spacingAndGlyphs"><tspan font-style="italic">q</tspan>=50kPa</text>
<line x1="500.00" y1="75.90" x2="525.50" y2="75.90" stroke="#6a90bc" stroke-width="1.5"/>
<ellipse cx="512.90" cy="75.90" rx="4.5" ry="5.0" fill="url(#gK)"/>
<text x="530.45" y="79.80" font-family="Liberation Serif" font-weight="normal" font-size="12.2" fill="#222" textLength="45.76" lengthAdjust="spacingAndGlyphs"><tspan font-style="italic">q</tspan>=100kPa</text>
<line x1="584.30" y1="75.90" x2="608.80" y2="75.90" stroke="#e8303e" stroke-width="1.5"/>
<ellipse cx="596.50" cy="75.90" rx="4.5" ry="5.0" fill="url(#gO)"/>
<text x="614.35" y="79.80" font-family="Liberation Serif" font-weight="normal" font-size="12.2" fill="#222" textLength="45.11" lengthAdjust="spacingAndGlyphs"><tspan font-style="italic">q</tspan>=150kPa</text>
</svg>
</body></html>
